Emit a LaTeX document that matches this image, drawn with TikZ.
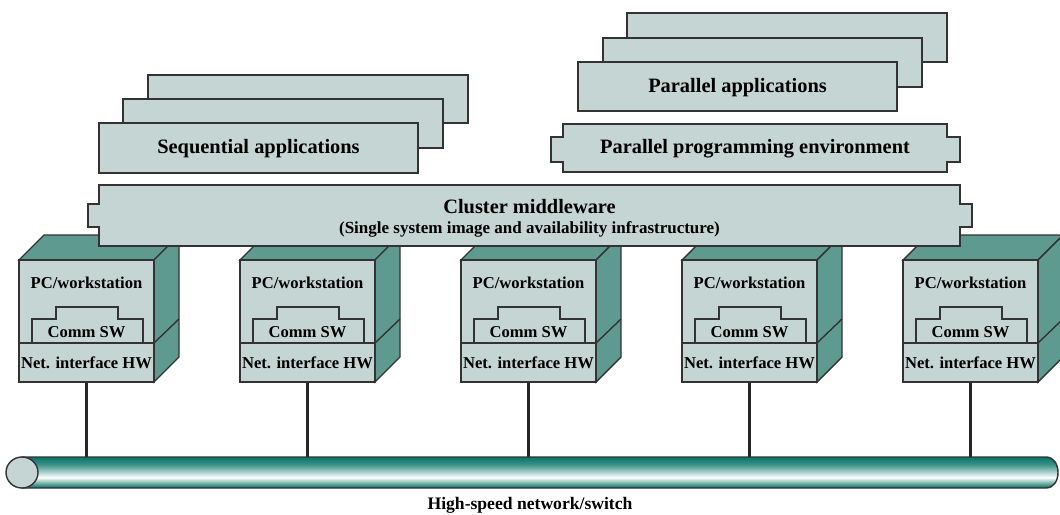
\documentclass[tikz,border=0pt]{standalone}
\usepackage{fontspec}
\setmainfont{Liberation Serif}
\usetikzlibrary{positioning}
\definecolor{boxfill}{RGB}{197,213,211}
\definecolor{sideteal}{RGB}{95,154,145}
\definecolor{busteal}{RGB}{8,118,104}
\pgfdeclareverticalshading{busshade}{100bp}{color(0bp)=(busteal); color(26bp)=(busteal); color(42bp)=(white); color(63bp)=(busteal!80); color(75bp)=(busteal); color(100bp)=(busteal)}

\begin{document}
\begin{tikzpicture}[x=0.5pt,y=-0.5pt,line join=miter,
  box/.style={draw=black!80,fill=boxfill,line width=0.7pt},
  side/.style={draw=black!80,fill=sideteal,line width=0.7pt},
  big/.style={font=\fontsize{10.2}{12}\selectfont\bfseries},
  small/.style={font=\fontsize{8.3}{10}\selectfont\bfseries},
  sub/.style={font=\fontsize{8.5}{10}\selectfont\bfseries}]
\path[use as bounding box] (0,0) rectangle (1060,514);
% sequential applications
\draw[box] (148,75) rectangle (468,123);
\draw[box] (123,99) rectangle (443,148);
\draw[box] (99,123) rectangle (418,173);
\node[big] (seqapp) at (258.5,149) {Sequential applications};
% parallel applications
\draw[box] (627,13) rectangle (947,62);
\draw[box] (603,38) rectangle (922,87);
\draw[box] (578,62) rectangle (897,111);
\node[big] (parapp) at (737.5,88) {Parallel applications};
% parallel programming environment
\draw[box] (563,124) -- (947,124) -- (947,137) -- (960,137) -- (960,162) -- (947,162)
  -- (947,172) -- (563,172) -- (563,162) -- (551,162) -- (551,137) -- (563,137) -- cycle;
\node[big] (parenv) at (755,149) {Parallel programming environment};
% nodes
\foreach \i in {1,...,5} {
  \pgfmathsetmacro\xa{19+221*(\i-1)}
  \draw[side] (\xa,260) -- ({\xa+25},235) -- ({\xa+160},235) -- ({\xa+135},260) -- cycle;
  \draw[side] ({\xa+135},260) -- ({\xa+160},235) -- ({\xa+160},357) -- ({\xa+135},382) -- cycle;
  \draw[black!80,line width=0.7pt] ({\xa+135},343) -- ({\xa+160},319);
  \draw[box] (\xa,260) rectangle ({\xa+135},343);
  \node[small] (pc\i) at ({\xa+67.5},283) {PC/workstation};
  \draw[box] ({\xa+13},343) -- ({\xa+13},319) -- ({\xa+37},319) -- ({\xa+37},307)
    -- ({\xa+99},307) -- ({\xa+99},319) -- ({\xa+124},319) -- ({\xa+124},343);
  \node[small] (comm\i) at ({\xa+67.5},332) {Comm SW};
  \node[box,small,minimum width=67.5pt,minimum height=19.5pt,inner sep=0pt] (nic\i)
    at ({\xa+67.5},362.5) {Net. interface HW};
  \coordinate (tap\i) at ({\xa+67.5},457);
}
% cluster middleware
\draw[box] (99,185) -- (960,185) -- (960,204) -- (972,204) -- (972,227) -- (960,227)
  -- (960,246) -- (99,246) -- (99,227) -- (88,227) -- (88,204) -- (99,204) -- cycle;
\node[big] (mw) at (529.5,207) {Cluster middleware};
\node[sub] (mwsub) at (529.5,229) {(Single system image and availability infrastructure)};
% network
\foreach \i in {1,...,5}
  \draw[black!85,line width=1.2pt] (nic\i.south) -- (tap\i);
\draw[draw=black!80,line width=0.7pt,shading=busshade] (22,457) -- (1046,457)
  .. controls (1062,457) and (1062,488) .. (1046,488) -- (22,488) -- cycle;
\draw[box] (22,472.5) ellipse [x radius=16,y radius=15.5];
\node[font=\fontsize{8.8}{10}\selectfont\bfseries] (netlabel) at (530,505) {High-speed network/switch};
\end{tikzpicture}
\end{document}
